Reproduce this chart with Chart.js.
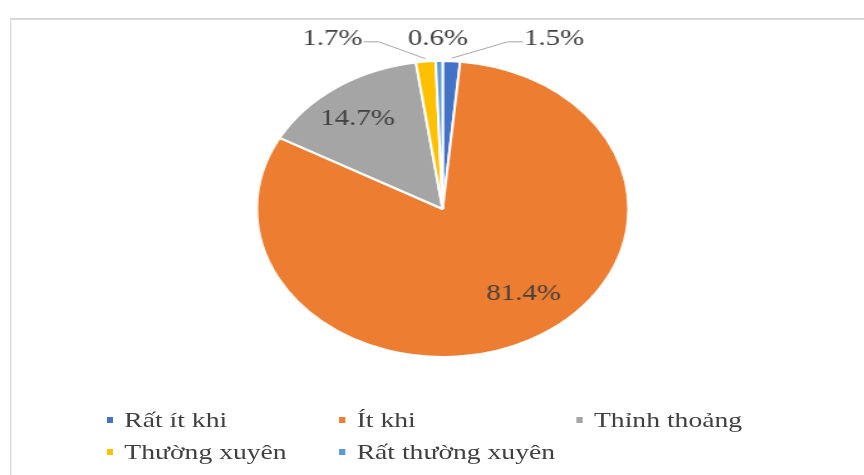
<!DOCTYPE html>
<html lang="vi">
<head>
    <meta charset="UTF-8">
    <title>Tần suất</title>
    <script src="https://cdn.jsdelivr.net/npm/chart.js"></script>
    <style>
        body {
            margin: 0;
            padding: 0;
            background-color: white;
            overflow: hidden;
        }
        /* the reference picture is stretched sideways, so the whole chart is too */
        #stage {
            position: absolute;
            left: 0;
            top: 0;
            width: 688px;
            height: 475px;
            transform: scaleX(1.2558);
            transform-origin: left top;
        }
        #frame {
            position: absolute;
            left: 8px;
            top: 18px;
            right: -20px;
            bottom: -20px;
            border-left: 1.6px solid #d9d9d9;
            border-top: 2px solid #d9d9d9;
        }
        #chartBox {
            position: absolute;
            left: 0;
            top: 0;
            width: 688px;
            height: 475px;
        }
        #legend {
            position: absolute;
            left: 85px;
            top: 404px;
            display: grid;
            grid-template-columns: 185px 189px auto;
            grid-auto-rows: 32px;
            font-family: "Liberation Serif", "Times New Roman", serif;
            font-size: 22px;
            color: #404040;
        }
        #legend .item {
            display: flex;
            align-items: center;
            white-space: nowrap;
        }
        #legend .box {
            width: 5px;
            height: 6px;
            margin-right: 9px;
        }
    </style>
</head>
<body>
    <div id="stage">
        <div id="frame"></div>
        <div id="chartBox"><canvas id="pieChart"></canvas></div>
        <div id="legend"></div>
    </div>

    <script>
        // data
        const labels = ['Rất ít khi', 'Ít khi', 'Thỉnh thoảng', 'Thường xuyên', 'Rất thường xuyên'];
        const values = [1.5, 81.4, 14.7, 1.7, 0.6];
        const colors = ['#4472C4', '#ED7D31', '#A5A5A5', '#FFC000', '#5B9BD5'];

        // where each value label goes: inside (radius share, angle nudge) or above the pie (in radii)
        const labelPlace = [
            { outside: true, x: 0.6, y: -1.15 },
            { r: 0.72, nudge: -9.3 },
            { r: 0.76, nudge: -2.3 },
            { outside: true, x: -0.594, y: -1.15 },
            { outside: true, x: -0.025, y: -1.15, noLine: true }
        ];

        // value labels with leader lines
        const pieLabels = {
            id: 'pieLabels',
            afterDatasetsDraw(chart) {
                const ctx = chart.ctx;
                const arcs = chart.getDatasetMeta(0).data;
                ctx.save();
                ctx.font = '23px "Liberation Serif", "Times New Roman", serif';
                ctx.fillStyle = '#404040';
                ctx.textBaseline = 'middle';
                ctx.textAlign = 'center';
                arcs.forEach((arc, i) => {
                    const p = arc.getProps(['x', 'y', 'startAngle', 'endAngle', 'outerRadius'], true);
                    const place = labelPlace[i];
                    const text = values[i].toFixed(1) + '%';
                    const mid = (p.startAngle + p.endAngle) / 2;
                    if (!place.outside) {
                        const a = mid + place.nudge * Math.PI / 180;
                        const d = p.outerRadius * place.r;
                        ctx.fillText(text, p.x + Math.cos(a) * d, p.y + Math.sin(a) * d);
                        return;
                    }
                    const lx = p.x + place.x * p.outerRadius;
                    const ly = p.y + place.y * p.outerRadius;
                    ctx.fillText(text, lx, ly);
                    if (place.noLine) return;
                    const half = ctx.measureText(text).width / 2;
                    const side = place.x < 0 ? 1 : -1;
                    const sx = lx + side * (half + 1);
                    const sy = ly + 3;
                    const ex = p.x + Math.cos(mid) * p.outerRadius * 1.02;
                    const ey = p.y + Math.sin(mid) * p.outerRadius * 1.02;
                    ctx.strokeStyle = '#a6a6a6';
                    ctx.lineWidth = 1;
                    ctx.beginPath();
                    ctx.moveTo(sx, sy);
                    ctx.lineTo(sx + side * 12, sy);
                    ctx.lineTo(ex, ey);
                    ctx.stroke();
                });
                ctx.restore();
            }
        };

        const ctxPie = document.getElementById('pieChart').getContext('2d');
        const pieChart = new Chart(ctxPie, {
            type: 'pie',
            data: {
                labels: labels,
                datasets: [{
                    data: values,
                    backgroundColor: colors,
                    borderColor: '#ffffff',
                    borderWidth: 2,
                    hoverOffset: 0
                }]
            },
            options: {
                responsive: true,
                maintainAspectRatio: false,
                animation: false,
                radius: 148,
                layout: {
                    padding: { left: 17, right: 0, top: 0, bottom: 57 }
                },
                plugins: {
                    legend: { display: false },
                    tooltip: { enabled: false }
                }
            },
            plugins: [pieLabels]
        });

        // legend laid out in columns like the reference
        const legendBox = document.getElementById('legend');
        labels.forEach((name, i) => {
            const item = document.createElement('div');
            item.className = 'item';
            const box = document.createElement('span');
            box.className = 'box';
            box.style.backgroundColor = colors[i];
            const txt = document.createElement('span');
            txt.textContent = name;
            item.appendChild(box);
            item.appendChild(txt);
            legendBox.appendChild(item);
        });
    </script>
</body>
</html>
